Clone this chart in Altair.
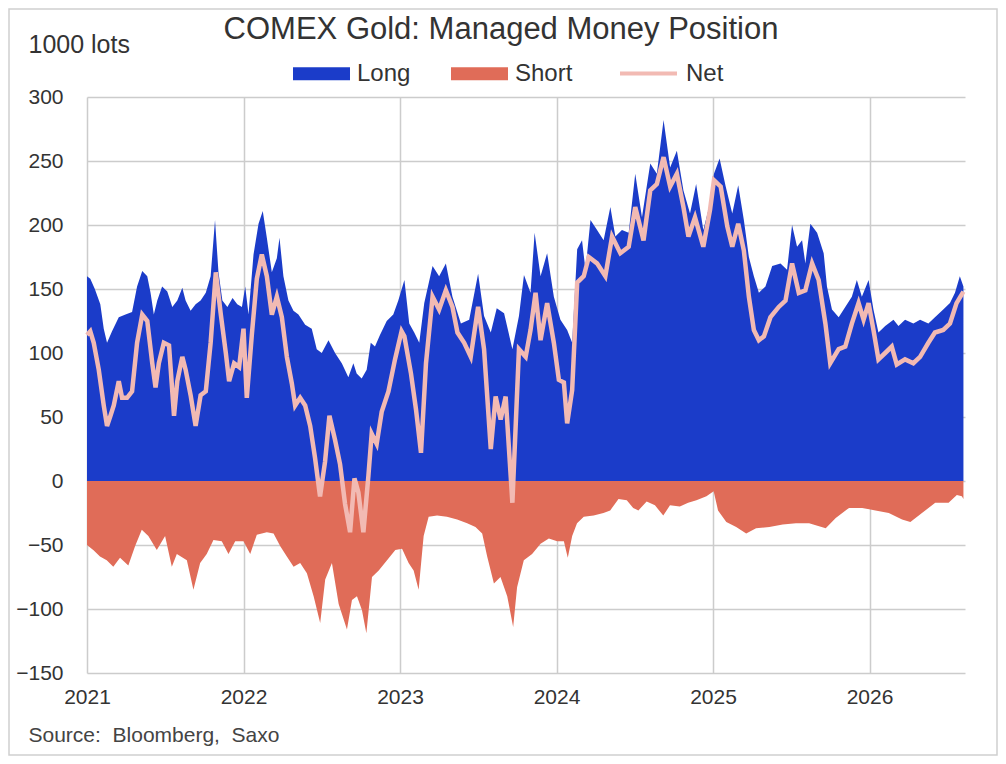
import altair as alt
import pandas as pd

# ---- data (1000 lots), x = decimal year ----
LONG_T = [2021.000, 2021.021, 2021.050, 2021.085, 2021.107, 2021.128, 2021.160, 2021.203, 2021.246, 2021.288,
          2021.320, 2021.353, 2021.385, 2021.406, 2021.427, 2021.449, 2021.480, 2021.513, 2021.545, 2021.577,
          2021.609, 2021.630, 2021.662, 2021.694, 2021.726, 2021.759, 2021.790, 2021.818, 2021.840, 2021.865,
          2021.897, 2021.930, 2021.960, 2021.990, 2022.011, 2022.032, 2022.064, 2022.096, 2022.123, 2022.149,
          2022.181, 2022.213, 2022.230, 2022.255, 2022.287, 2022.319, 2022.351, 2022.394, 2022.436, 2022.468,
          2022.500, 2022.543, 2022.585, 2022.628, 2022.670, 2022.702, 2022.723, 2022.755, 2022.787, 2022.813,
          2022.840, 2022.872, 2022.915, 2022.957, 2022.989, 2023.028, 2023.059, 2023.091, 2023.123, 2023.155,
          2023.208, 2023.250, 2023.293, 2023.335, 2023.389, 2023.442, 2023.499, 2023.537, 2023.580, 2023.618,
          2023.665, 2023.718, 2023.760, 2023.792, 2023.834, 2023.860, 2023.898, 2023.940, 2023.983, 2024.025,
          2024.068, 2024.100, 2024.132, 2024.163, 2024.185, 2024.217, 2024.259, 2024.301, 2024.344, 2024.376,
          2024.418, 2024.461, 2024.503, 2024.546, 2024.599, 2024.641, 2024.684, 2024.726, 2024.769, 2024.811,
          2024.853, 2024.892, 2024.938, 2024.981, 2025.006, 2025.042, 2025.081, 2025.123, 2025.161, 2025.197,
          2025.229, 2025.261, 2025.293, 2025.335, 2025.378, 2025.431, 2025.473, 2025.505, 2025.537, 2025.569,
          2025.590, 2025.622, 2025.665, 2025.707, 2025.728, 2025.760, 2025.803, 2025.845, 2025.887, 2025.919,
          2025.951, 2025.994, 2026.025, 2026.057, 2026.100, 2026.153, 2026.185, 2026.227, 2026.280, 2026.323,
          2026.376, 2026.418, 2026.471, 2026.514, 2026.546, 2026.577, 2026.600]
LONG_V = [160, 158, 150, 138, 119, 108, 117, 128, 130, 132,
          152, 164, 160, 147, 130, 141, 152, 148, 136, 141,
          151, 141, 133, 138, 141, 147, 160, 204, 163, 141,
          136, 143, 138, 136, 152, 130, 177, 201, 211, 190,
          163, 174, 190, 160, 141, 133, 130, 122, 119, 103,
          100, 110, 100, 92, 81, 92, 84, 80, 87, 108,
          105, 114, 125, 130, 141, 157, 123, 116, 108, 139,
          168, 160, 170, 144, 123, 126, 162, 129, 116, 135,
          131, 103, 129, 161, 147, 194, 160, 178, 144, 126,
          118, 108, 181, 188, 165, 204, 196, 188, 214, 191,
          196, 194, 240, 206, 248, 240, 282, 245, 258, 227,
          209, 232, 196, 217, 240, 252, 230, 209, 231, 204,
          175, 160, 147, 152, 168, 170, 165, 200, 183, 188,
          170, 201, 194, 178, 152, 134, 128, 136, 144, 157,
          144, 157, 134, 116, 121, 126, 121, 126, 123, 126,
          123, 128, 134, 139, 147, 160, 152]

SHORT_T = [2021.000, 2021.040, 2021.083, 2021.126, 2021.168, 2021.211, 2021.264, 2021.307, 2021.350, 2021.392,
           2021.446, 2021.499, 2021.542, 2021.574, 2021.638, 2021.680, 2021.723, 2021.765, 2021.808, 2021.861,
           2021.904, 2021.947, 2022.000, 2022.043, 2022.085, 2022.149, 2022.192, 2022.235, 2022.277, 2022.320,
           2022.362, 2022.405, 2022.448, 2022.490, 2022.522, 2022.565, 2022.608, 2022.661, 2022.693, 2022.725,
           2022.757, 2022.785, 2022.821, 2022.864, 2022.917, 2022.970, 2023.013, 2023.055, 2023.087, 2023.119,
           2023.151, 2023.183, 2023.237, 2023.300, 2023.365, 2023.429, 2023.482, 2023.525, 2023.557, 2023.600,
           2023.642, 2023.685, 2023.723, 2023.748, 2023.791, 2023.844, 2023.898, 2023.951, 2024.004, 2024.047,
           2024.072, 2024.100, 2024.131, 2024.174, 2024.237, 2024.300, 2024.343, 2024.396, 2024.449, 2024.490,
           2024.523, 2024.576, 2024.629, 2024.682, 2024.725, 2024.788, 2024.841, 2024.894, 2024.958, 2025.004,
           2025.032, 2025.085, 2025.148, 2025.212, 2025.275, 2025.360, 2025.445, 2025.530, 2025.614, 2025.720,
           2025.784, 2025.869, 2025.953, 2026.038, 2026.123, 2026.208, 2026.261, 2026.335, 2026.420, 2026.505,
           2026.558, 2026.590, 2026.600]
SHORT_V = [-50, -54, -59, -62, -67, -60, -66, -51, -38, -43,
           -54, -43, -67, -57, -62, -85, -64, -57, -46, -47,
           -57, -47, -47, -57, -42, -40, -41, -51, -59, -67,
           -64, -72, -90, -111, -77, -64, -96, -116, -93, -90,
           -101, -119, -75, -70, -62, -54, -53, -64, -70, -85,
           -43, -28, -27, -28, -30, -33, -36, -41, -59, -80,
           -75, -90, -114, -83, -62, -57, -49, -45, -47, -47,
           -60, -43, -33, -28, -27, -25, -23, -14, -15, -21,
           -23, -16, -19, -27, -19, -20, -17, -15, -12, -8,
           -23, -32, -36, -41, -37, -36, -34, -33, -33, -37,
           -29, -21, -21, -23, -25, -30, -32, -25, -17, -17,
           -11, -12, -14]

NET_T = [2021.000, 2021.021, 2021.043, 2021.075, 2021.107, 2021.128, 2021.150, 2021.171, 2021.203, 2021.224,
         2021.256, 2021.288, 2021.320, 2021.353, 2021.385, 2021.417, 2021.438, 2021.459, 2021.491, 2021.524,
         2021.556, 2021.577, 2021.609, 2021.630, 2021.662, 2021.694, 2021.726, 2021.759, 2021.790, 2021.823,
         2021.855, 2021.887, 2021.908, 2021.940, 2021.972, 2022.000, 2022.021, 2022.053, 2022.085, 2022.117,
         2022.149, 2022.181, 2022.213, 2022.245, 2022.277, 2022.309, 2022.330, 2022.362, 2022.394, 2022.426,
         2022.457, 2022.489, 2022.521, 2022.549, 2022.585, 2022.617, 2022.649, 2022.681, 2022.709, 2022.734,
         2022.766, 2022.798, 2022.819, 2022.851, 2022.883, 2022.926, 2022.968, 2023.010, 2023.028, 2023.070,
         2023.102, 2023.134, 2023.166, 2023.208, 2023.250, 2023.293, 2023.335, 2023.367, 2023.410, 2023.452,
         2023.499, 2023.537, 2023.580, 2023.611, 2023.643, 2023.675, 2023.718, 2023.760, 2023.803, 2023.834,
         2023.866, 2023.898, 2023.940, 2023.983, 2024.015, 2024.047, 2024.068, 2024.100, 2024.132, 2024.174,
         2024.206, 2024.259, 2024.312, 2024.355, 2024.408, 2024.461, 2024.503, 2024.556, 2024.599, 2024.641,
         2024.684, 2024.726, 2024.769, 2024.811, 2024.843, 2024.885, 2024.938, 2024.981, 2025.006, 2025.049,
         2025.091, 2025.123, 2025.161, 2025.197, 2025.229, 2025.261, 2025.293, 2025.325, 2025.367, 2025.420,
         2025.463, 2025.505, 2025.548, 2025.590, 2025.633, 2025.675, 2025.718, 2025.749, 2025.803, 2025.845,
         2025.887, 2025.930, 2025.962, 2025.994, 2026.025, 2026.057, 2026.100, 2026.142, 2026.174, 2026.227,
         2026.280, 2026.323, 2026.376, 2026.418, 2026.471, 2026.514, 2026.556, 2026.600]
NET_V = [114, 117, 108, 87, 59, 43, 51, 59, 78, 65,
         65, 70, 108, 130, 125, 92, 73, 92, 108, 106,
         51, 78, 97, 87, 67, 43, 67, 70, 108, 163,
         130, 100, 78, 92, 89, 119, 65, 114, 158, 177,
         160, 130, 144, 128, 97, 76, 59, 65, 59, 43,
         18, -12, 15, 51, 32, 13, -18, -40, 2, -9,
         -40, 4, 37, 29, 54, 70, 95, 117, 113, 84,
         56, 22, 92, 144, 134, 149, 136, 116, 108, 97,
         136, 103, 25, 66, 48, 66, -17, 103, 97, 118,
         147, 110, 139, 108, 79, 77, 45, 71, 155, 160,
         175, 170, 160, 191, 178, 183, 214, 188, 227, 232,
         253, 230, 240, 214, 191, 206, 183, 212, 235, 230,
         199, 183, 201, 180, 144, 118, 110, 113, 128, 136,
         141, 170, 147, 149, 170, 157, 123, 92, 103, 105,
         123, 139, 126, 139, 118, 95, 100, 105, 91, 95,
         92, 97, 108, 116, 118, 123, 139, 148]

AREA_SERIES = ["Long", "Short"]
AREA_COLORS = ["#1b3cc9", "#e06c58"]
LINE_SERIES = ["Net"]
LINE_COLORS = ["#f2bab3"]
YEAR_TICKS = [2021, 2022, 2023, 2024, 2025, 2026]
Y_TICKS = [-150, -100, -50, 0, 50, 100, 150, 200, 250, 300]

FONT = "Liberation Sans"
TXT = "#333333"

long_df = pd.DataFrame({"t": LONG_T, "v": LONG_V, "series": "Long"})
short_df = pd.DataFrame({"t": SHORT_T, "v": SHORT_V, "series": "Short"})
net_df = pd.DataFrame({"t": NET_T, "v": NET_V, "series": "Net"})

x_enc = alt.X(
    "t:Q",
    scale=alt.Scale(domain=[2021, 2026.61], nice=False, zero=False),
    axis=alt.Axis(
        values=YEAR_TICKS, format="d", grid=True, ticks=False, domain=False,
        labelFlush=False,
        labelPadding=13, labelFontSize=21, labelFont=FONT, labelColor=TXT,
        title="Source:\u00a0 Bloomberg,\u00a0 Saxo", titleFont=FONT, titleFontSize=21,
        titleFontWeight="normal", titleColor="#444444", titleAlign="left",
        titleBaseline="middle", titleX=-59, titleY=62,
    ),
)
y_enc = alt.Y(
    "v:Q",
    scale=alt.Scale(domain=[-150, 300], nice=False),
    axis=alt.Axis(
        values=Y_TICKS, grid=True, ticks=False, domain=False, labelFlush=False,
        labelPadding=24, labelFontSize=21, labelFont=FONT, labelColor=TXT,
        title="1000 lots", titleFont=FONT, titleFontSize=25, titleFontWeight="normal",
        titleColor=TXT, titleAngle=0, titleAlign="left", titleBaseline="middle",
        titleX=-59, titleY=-53,
    ),
)

RECT_PATH = "M-1,-0.23L1,-0.23L1,0.23L-1,0.23Z"

fill_enc = alt.Fill(
    "series:N",
    scale=alt.Scale(domain=AREA_SERIES, range=AREA_COLORS),
    legend=alt.Legend(
        title=None, orient="none", legendX=206, legendY=-52, direction="horizontal",
        symbolType=RECT_PATH, symbolSize=3249, symbolStrokeWidth=0,
        labelFont=FONT, labelFontSize=24, labelColor=TXT, labelOffset=7,
        columnPadding=40,
    ),
)
stroke_enc = alt.Stroke(
    "series:N",
    scale=alt.Scale(domain=LINE_SERIES, range=LINE_COLORS),
    legend=alt.Legend(
        title=None, orient="none", legendX=531, legendY=-54, direction="horizontal",
        symbolType="stroke", symbolSize=3249, symbolStrokeWidth=4,
        labelFont=FONT, labelFontSize=24, labelColor=TXT, labelOffset=7,
    ),
)

long_layer = alt.Chart(long_df).mark_area().encode(x=x_enc, y=y_enc, fill=fill_enc)
short_layer = alt.Chart(short_df).mark_area().encode(x=x_enc, y=y_enc, fill=fill_enc)
net_layer = alt.Chart(net_df).mark_line(strokeWidth=4.5).encode(x=x_enc, y=y_enc, stroke=stroke_enc)

frame = alt.Chart(pd.DataFrame({"a": [0]})).mark_rect(
    filled=False, stroke="#d0d0d0", strokeWidth=1.5
).encode(x=alt.value(-78), x2=alt.value(910), y=alt.value(-88), y2=alt.value(658))

chart = alt.layer(long_layer, short_layer, net_layer, frame).properties(
    width=878, height=576,
    autosize=alt.AutoSizeParams(type="none"),
    padding={"left": 79, "top": 89, "right": 33, "bottom": 83},
    title=alt.TitleParams(
        text="COMEX Gold: Managed Money Position", font=FONT, fontSize=31,
        fontWeight="normal", color=TXT, anchor="middle", dx=-25, dy=42,
    ),
    background="white",
).configure_view(stroke="transparent").configure_axis(
    gridColor="#cccccc", gridWidth=1.5
)

chart.save("out.html", embed_options={"renderer": "svg", "actions": False})
